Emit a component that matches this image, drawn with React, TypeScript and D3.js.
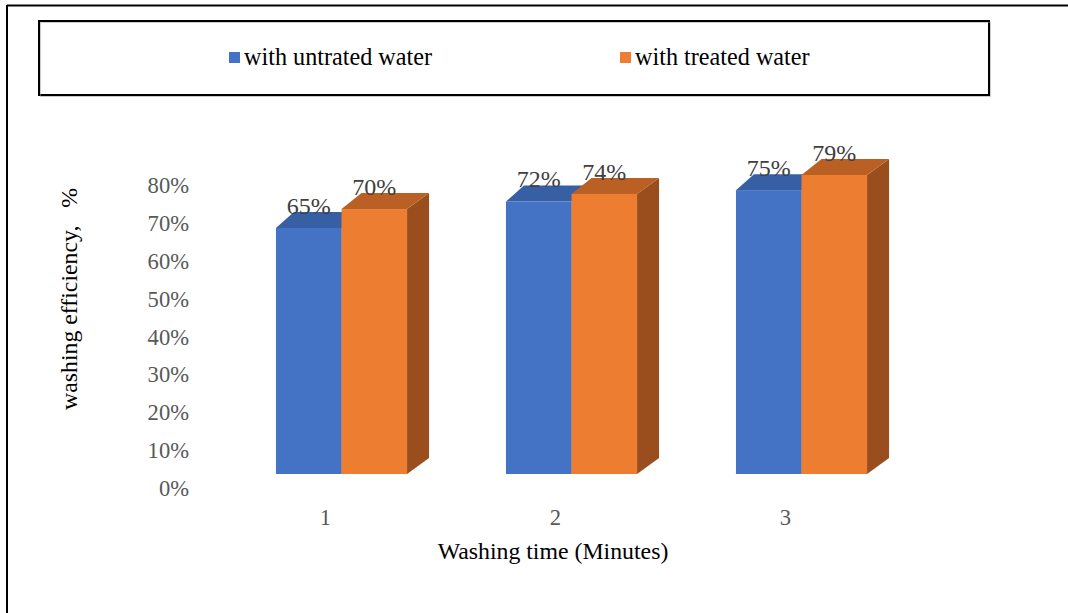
import React from "react";
import * as d3 from "d3";

const categories = ["1", "2", "3"];
const seriesNames = ["with untrated water", "with treated water"];
const untreated = [65, 72, 75];
const treated = [70, 74, 79];
const yTicks = [0, 10, 20, 30, 40, 50, 60, 70, 80];

const W = 1068;
const H = 613;
const FONT = "'Liberation Serif', 'Times New Roman', serif";

const colors = [
  { front: "#4472C4", top: "#375FA3", side: "#2F5597" },
  { front: "#ED7D31", top: "#BA6024", side: "#9A4E1E" },
];

export default function App() {
  const baseY = 474;
  const y = d3.scaleLinear().domain([0, 80]).range([baseY, baseY - 80 * 3.785]);
  const x = d3
    .scaleBand<string>()
    .domain(categories)
    .range([226.5, 916.5])
    .paddingInner(0.43)
    .paddingOuter(0.215);
  const inner = d3.scaleBand<number>().domain([0, 1]).range([0, x.bandwidth()]);
  const dy = -16;
  const depthX = (px: number, gLeft: number) => px + 18 + (4 * (px - gLeft)) / x.bandwidth();
  const series = [untreated, treated];

  const bars: React.ReactNode[] = [];
  const labels: React.ReactNode[] = [];
  categories.forEach((c, ci) => {
    const gLeft = x(c)!;
    series.forEach((vals, si) => {
      const v = vals[ci];
      const x0 = gLeft + inner(si)!;
      const x1 = x0 + inner.bandwidth();
      const yt = y(v);
      const yb = y(0);
      const col = colors[si];
      const side = `M${x1},${yt} L${depthX(x1, gLeft)},${yt + dy} L${depthX(x1, gLeft)},${yb + dy} L${x1},${yb} Z`;
      const top = `M${x0},${yt} L${depthX(x0, gLeft)},${yt + dy} L${depthX(x1, gLeft)},${yt + dy} L${x1},${yt} Z`;
      bars.push(
        <g key={`${ci}-${si}`}>
          <path d={side} fill={col.side} />
          <path d={top} fill={col.top} />
          <rect x={x0} y={yt} width={x1 - x0} height={yb - yt} fill={col.front} />
        </g>
      );
      labels.push(
        <text
          key={`l${ci}-${si}`}
          x={(x0 + x1) / 2}
          y={yt + dy + 2}
          textAnchor="middle"
          fontSize={24}
          fill="#404040"
          fontFamily={FONT}
        >
          {`${v}%`}
        </text>
      );
    });
  });

  return (
    <svg
      width={W}
      height={H}
      style={{ position: "absolute", left: 0, top: 0, background: "#fff" }}
    >
      <rect x={0} y={0} width={W} height={H} fill="#fff" />
      {/* outer frame: top and left edges */}
      <line x1={7} y1={5.5} x2={W} y2={5.5} stroke="#000" strokeWidth={2} />
      <line x1={7} y1={5} x2={7} y2={H} stroke="#000" strokeWidth={2} />

      {/* legend box */}
      <rect x={39} y={21} width={950} height={74} fill="#fff" stroke="#000" strokeWidth={2} />
      <rect x={40.5} y={22.5} width={950} height={74} fill="none" stroke="#999" strokeWidth={1} opacity={0.5} />
      {seriesNames.map((n, i) => {
        const lx = [229, 620][i];
        return (
          <g key={n}>
            <rect x={lx} y={52} width={11} height={11} fill={colors[i].front} />
            <text x={lx + 15} y={65} fontSize={24.2} fontFamily={FONT} fill="#000">
              {n}
            </text>
          </g>
        );
      })}

      {/* y tick labels */}
      {yTicks.map((t) => (
        <text
          key={t}
          x={189}
          y={y(t) + 14 + 8}
          textAnchor="end"
          fontSize={22.6}
          fill="#595959"
          fontFamily={FONT}
        >
          {`${t}%`}
        </text>
      ))}

      {bars}
      {labels}

      {/* x category labels */}
      {categories.map((c) => (
        <text
          key={c}
          x={x(c)! + x.bandwidth() / 2 - 16}
          y={525}
          textAnchor="middle"
          fontSize={22.6}
          fill="#595959"
          fontFamily={FONT}
        >
          {c}
        </text>
      ))}

      {/* axis titles */}
      <text x={553} y={559} textAnchor="middle" fontSize={23.8} fill="#000" fontFamily={FONT}>
        Washing time (Minutes)
      </text>
      <text
        transform={`translate(77,299) rotate(-90)`}
        textAnchor="middle"
        fontSize={23.8}
        fill="#000"
        fontFamily={FONT}
        style={{ whiteSpace: "pre" }}
      >
        {"washing efficiency,   %"}
      </text>
    </svg>
  );
}
